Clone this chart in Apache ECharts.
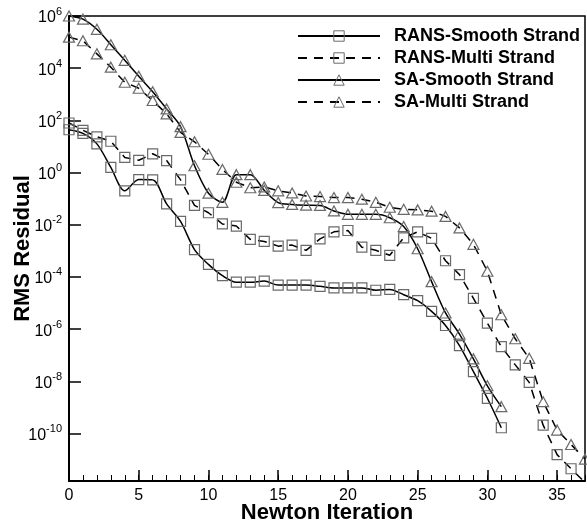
<!DOCTYPE html>
<html><head><meta charset="utf-8">
<script src="https://cdn.jsdelivr.net/npm/echarts@6/dist/echarts.min.js"></script>
<style>html,body{margin:0;padding:0;background:#fff}#c{width:587px;height:527px}</style>
</head><body><div id="c"></div>
<script>
// Newton iteration index
const iterations = [0,1,2,3,4,5,6,7,8,9,10,11,12,13,14,15,16,17,18,19,20,21,22,23,24,25,26,27,28,29,30,31,32,33,34,35,36,37];
// log10 of RMS residual
const ransSmoothExp = [1.64,1.5,1.1,0.2,-0.7,-0.27,-0.28,-1.2,-1.87,-2.95,-3.52,-3.95,-4.2,-4.2,-4.16,-4.31,-4.31,-4.31,-4.36,-4.42,-4.42,-4.42,-4.51,-4.48,-4.68,-4.91,-5.32,-5.86,-6.63,-7.63,-8.65,-9.78];
const ransMultiExp = [1.9,1.62,1.37,1.2,0.58,0.47,0.72,0.46,-0.28,-1.26,-1.54,-1.97,-2.05,-2.56,-2.64,-2.82,-2.78,-2.98,-2.54,-2.27,-2.22,-2.86,-2.98,-3.17,-2.5,-2.27,-2.52,-3.38,-3.91,-4.82,-5.77,-6.67,-7.37,-8.04,-9.68,-10.81,-11.35,-11.88];
const saSmoothExp = [6.0,5.88,5.49,4.9,4.3,3.69,3.1,2.44,1.76,0.26,-0.79,-1.14,-0.08,-0.08,-0.68,-1.15,-1.22,-1.25,-1.26,-1.47,-1.6,-1.6,-1.6,-1.73,-2.07,-2.92,-4.18,-5.38,-6.19,-7.14,-8.17,-8.97];
const saMultiExp = [5.19,5.05,4.55,4.04,3.46,3.23,2.76,2.25,1.54,1.18,0.7,0.12,-0.37,-0.58,-0.55,-0.7,-0.78,-0.9,-0.92,-0.96,-0.96,-1.02,-1.14,-1.33,-1.41,-1.43,-1.48,-1.68,-2.12,-2.75,-3.78,-5.45,-6.37,-7.12,-8.78,-9.87,-10.42,-10.98];
const seriesNames = ['RANS-Smooth Strand','RANS-Multi Strand','SA-Smooth Strand','SA-Multi Strand'];
const xMajorTicks = [0,5,10,15,20,25,30,35];
const yTickExps = [-10,-8,-6,-4,-2,0,2,4,6];

const FONT = 'Liberation Sans, Arial, Helvetica, sans-serif';
const MARK = { color: 'rgba(255,255,255,0)', borderColor: '#6a6a6a', borderWidth: 1.2 };
const pairs = arr => arr.map((v, i) => [iterations[i], v]);
function mk(name, arr, symbol, dashed, smooth) {
  return {
    name, type: 'line', data: pairs(arr), symbol,
    symbolSize: symbol === 'triangle' ? [11, 10] : 10,
    showAllSymbol: true, smooth: smooth, clip: true,
    itemStyle: MARK,
    lineStyle: { color: '#000', width: 1.5, type: dashed ? [9, 7] : 'solid' },
    emphasis: { disabled: true }
  };
}
const chart = echarts.init(document.getElementById('c'), null, { renderer: 'canvas' });
chart.setOption({
  animation: false,
  backgroundColor: '#fff',
  grid: { left: 69, top: 16, right: 2, bottom: 46, outerBoundsMode: 'none', containLabel: false, show: true, borderColor: '#000', borderWidth: 1.5, backgroundColor: 'transparent' },
  legend: {
    data: seriesNames, orient: 'vertical', left: 292, top: 22,
    itemWidth: 82, itemHeight: 13, itemGap: 4,
    itemStyle: { color: 'rgba(255,255,255,0)', borderColor: '#6a6a6a', borderWidth: 1 },
    formatter: name => '{t|' + name + '}',
    textStyle: {
      fontSize: 18, fontWeight: 'bold', fontFamily: FONT, color: '#000',
      rich: { t: { fontSize: 18, fontWeight: 'bold', fontFamily: FONT, color: '#000', padding: [0, 0, 0, 9] } }
    }
  },
  xAxis: [{
    type: 'value', min: 0, max: 37, interval: 5,
    axisLine: { onZero: false, lineStyle: { color: '#000', width: 2 } },
    axisTick: { inside: true, length: 11, customValues: xMajorTicks, lineStyle: { color: '#000', width: 1.5 } },
    axisLabel: { customValues: xMajorTicks, fontSize: 16, color: '#000', fontFamily: FONT, margin: 7 },
    splitLine: { show: false },
    name: 'Newton Iteration', nameLocation: 'middle', nameGap: 21, nameMoveOverlap: false,
    nameTextStyle: { fontSize: 22, fontWeight: 'bold', fontFamily: FONT, color: '#000' }
  }, {
    type: 'value', min: 0, max: 37, interval: 1, position: 'bottom',
    axisLine: { show: false, onZero: false },
    axisTick: { inside: true, length: 6, customValues: iterations, lineStyle: { color: '#000', width: 1 } },
    axisLabel: { show: false }, splitLine: { show: false }
  }],
  yAxis: {
    type: 'value', min: -11.82, max: 6,
    axisLine: { onZero: false, lineStyle: { color: '#000', width: 2 } },
    axisTick: { inside: true, length: 12, customValues: yTickExps, lineStyle: { color: '#000', width: 1.5 } },
    axisLabel: {
      customValues: yTickExps, margin: 7, color: '#000',
      formatter: v => '{b|10}{s|' + v + '}',
      rich: {
        b: { fontSize: 16, fontFamily: FONT, color: '#000', lineHeight: 20, verticalAlign: 'bottom' },
        s: { fontSize: 11, fontFamily: FONT, color: '#000', lineHeight: 11, verticalAlign: 'top' }
      }
    },
    splitLine: { show: false },
    name: 'RMS Residual', nameLocation: 'middle', nameGap: 35, nameRotate: 90, nameMoveOverlap: false,
    nameTextStyle: { fontSize: 22, fontWeight: 'bold', fontFamily: FONT, color: '#000' }
  },
  series: [
    mk(seriesNames[0], ransSmoothExp, 'rect', false, 0.3),
    mk(seriesNames[1], ransMultiExp, 'rect', true, false),
    mk(seriesNames[2], saSmoothExp, 'triangle', false, 0.3),
    mk(seriesNames[3], saMultiExp, 'triangle', true, false)
  ]
});
</script></body></html>
